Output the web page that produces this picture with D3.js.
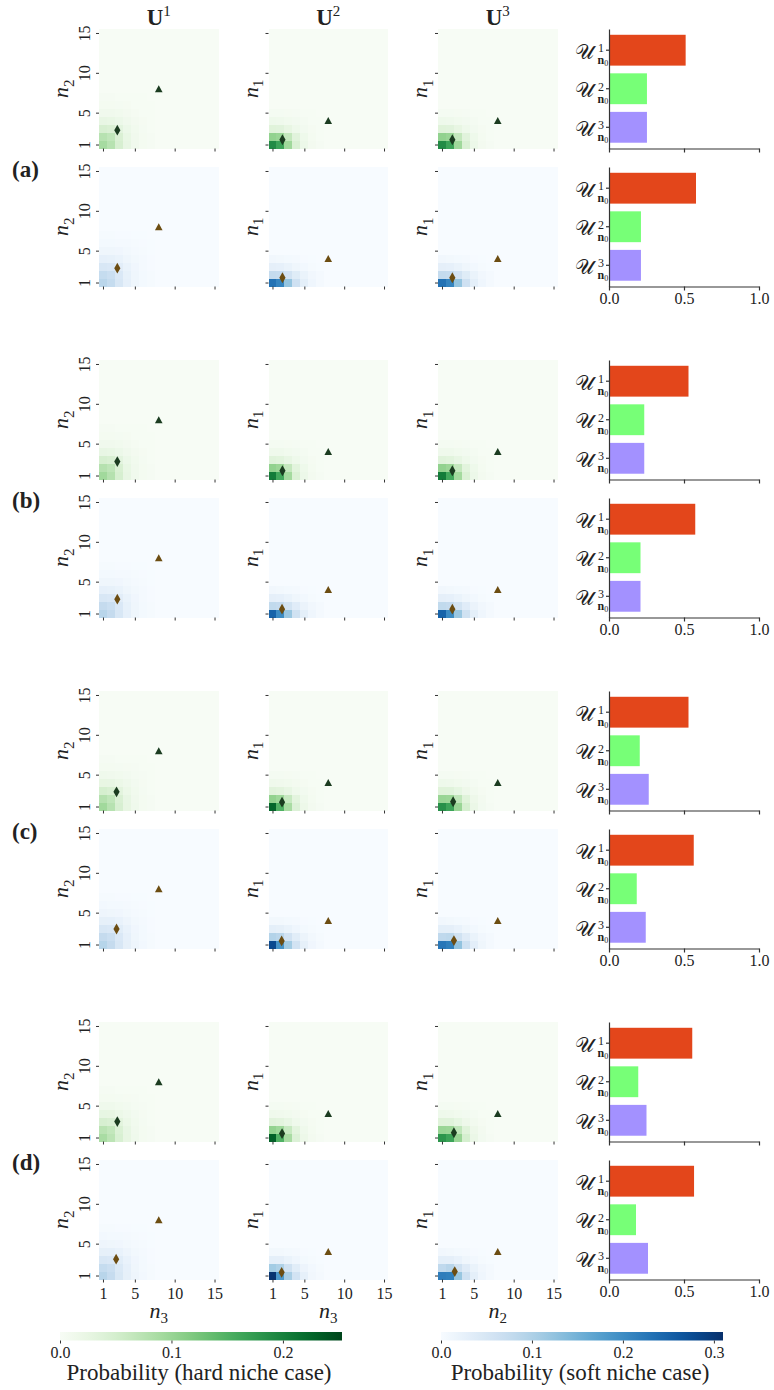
<!DOCTYPE html>
<html>
<head>
<meta charset="utf-8">
<script src="https://cdn.jsdelivr.net/npm/d3@7"></script>
<style>
  body { margin: 0; background: #fff; }
  svg text { font-family: "Liberation Serif", "DejaVu Serif", serif; fill: #222; }
</style>
</head>
<body>
<div id="chart"></div>
<script>
// ---- data ----
const groupNames = ["(a)", "(b)", "(c)", "(d)"];
const colSup = ["1", "2", "3"];
const yAxisSub = ["2", "1", "1"];
const xAxisSub = ["3", "3", "2"];
const gridTicks = [1, 5, 10, 15];
const shareTicks = [0, 0.5, 1];
const hardTicks = [0, 0.1, 0.2];
const softTicks = [0, 0.1, 0.2, 0.3];
const shareColors = ["#e3461b", "#77ff77", "#a391ff"];

// U^1, U^2, U^3 shares per group
const hardShares = [[0.511, 0.253, 0.253], [0.53, 0.235, 0.235], [0.53, 0.205, 0.265], [0.555, 0.195, 0.25]];
const softShares = [[0.58, 0.213, 0.213], [0.575, 0.21, 0.21], [0.565, 0.185, 0.245], [0.567, 0.18, 0.26]];

// lower-left corner of each 15x15 grid, rows from n=1 upward; other cells ~0
const hardU1 = [
  [[0.090,0.076,0.046,0.024,0.012,0.006,0.003],[0.076,0.068,0.043,0.023,0.012,0.006,0.003],[0.046,0.043,0.031,0.018,0.010,0.005,0.002],[0.024,0.023,0.018,0.012,0.007,0.004,0.002],[0.012,0.012,0.010,0.007,0.004,0.002,0.001],[0.006,0.006,0.005,0.004,0.002,0.001,0.001],[0.003,0.003,0.002,0.002,0.001,0.001,0]],
  [[0.094,0.078,0.047,0.024,0.012,0.006,0.003],[0.078,0.070,0.044,0.023,0.012,0.006,0.003],[0.047,0.044,0.031,0.018,0.010,0.005,0.002],[0.024,0.023,0.018,0.012,0.007,0.004,0.002],[0.012,0.012,0.010,0.007,0.004,0.002,0.001],[0.006,0.006,0.005,0.004,0.002,0.001,0.001],[0.003,0.003,0.002,0.002,0.001,0.001,0]],
  [[0.094,0.076,0.046,0.025,0.013,0.006,0.003],[0.078,0.068,0.043,0.024,0.012,0.006,0.003],[0.048,0.044,0.032,0.019,0.010,0.005,0.002],[0.025,0.024,0.019,0.013,0.008,0.004,0.002],[0.013,0.012,0.010,0.008,0.005,0.003,0.001],[0.006,0.006,0.005,0.004,0.003,0.002,0.001],[0.003,0.003,0.002,0.002,0.001,0.001,0]],
  [[0.088,0.072,0.045,0.025,0.013,0.006,0.003],[0.074,0.066,0.042,0.024,0.012,0.006,0.003],[0.046,0.043,0.032,0.019,0.010,0.005,0.002],[0.026,0.025,0.019,0.013,0.008,0.004,0.002],[0.013,0.013,0.010,0.008,0.005,0.003,0.001],[0.006,0.006,0.005,0.004,0.003,0.002,0.001],[0.003,0.003,0.002,0.002,0.001,0.001,0]]
];
const hardU2 = [
  [[0.190,0.165,0.095,0.043,0.018,0.007,0.003],[0.105,0.100,0.065,0.034,0.015,0.006,0.002],[0.036,0.034,0.025,0.015,0.008,0.004,0.001],[0.015,0.014,0.011,0.008,0.005,0.002,0.001],[0.005,0.005,0.004,0.003,0.002,0.001,0]],
  [[0.205,0.160,0.092,0.042,0.018,0.007,0.003],[0.105,0.098,0.064,0.033,0.015,0.006,0.002],[0.035,0.033,0.024,0.015,0.008,0.004,0.001],[0.014,0.013,0.010,0.008,0.005,0.002,0.001],[0.005,0.005,0.004,0.003,0.002,0.001,0]],
  [[0.225,0.150,0.088,0.040,0.017,0.007,0.003],[0.105,0.096,0.062,0.032,0.014,0.006,0.002],[0.034,0.032,0.024,0.014,0.008,0.004,0.001],[0.013,0.012,0.010,0.007,0.004,0.002,0.001],[0.005,0.005,0.004,0.003,0.002,0.001,0]],
  [[0.230,0.150,0.088,0.040,0.017,0.007,0.003],[0.105,0.096,0.062,0.032,0.014,0.006,0.002],[0.034,0.032,0.024,0.014,0.008,0.004,0.001],[0.013,0.012,0.010,0.007,0.004,0.002,0.001],[0.005,0.005,0.004,0.003,0.002,0.001,0]]
];
const hardU3 = [
  [[0.190,0.165,0.095,0.043,0.018,0.007,0.003],[0.105,0.100,0.065,0.034,0.015,0.006,0.002],[0.036,0.034,0.025,0.015,0.008,0.004,0.001],[0.015,0.014,0.011,0.008,0.005,0.002,0.001],[0.005,0.005,0.004,0.003,0.002,0.001,0]],
  [[0.205,0.160,0.092,0.042,0.018,0.007,0.003],[0.105,0.098,0.064,0.033,0.015,0.006,0.002],[0.035,0.033,0.024,0.015,0.008,0.004,0.001],[0.014,0.013,0.010,0.008,0.005,0.002,0.001],[0.005,0.005,0.004,0.003,0.002,0.001,0]],
  [[0.185,0.165,0.100,0.048,0.020,0.008,0.003],[0.100,0.098,0.068,0.036,0.016,0.007,0.002],[0.036,0.035,0.027,0.016,0.009,0.004,0.001],[0.015,0.014,0.011,0.008,0.005,0.002,0.001],[0.005,0.005,0.004,0.003,0.002,0.001,0]],
  [[0.180,0.165,0.100,0.048,0.020,0.008,0.003],[0.100,0.098,0.068,0.036,0.016,0.007,0.002],[0.036,0.035,0.027,0.016,0.009,0.004,0.001],[0.015,0.014,0.011,0.008,0.005,0.002,0.001],[0.005,0.005,0.004,0.003,0.002,0.001,0]]
];
const softU1 = [
  [[0.088,0.075,0.048,0.026,0.013,0.006,0.003],[0.075,0.068,0.045,0.025,0.013,0.006,0.003],[0.048,0.045,0.033,0.020,0.011,0.005,0.002],[0.026,0.025,0.020,0.013,0.008,0.004,0.002],[0.013,0.013,0.011,0.008,0.005,0.003,0.001],[0.006,0.006,0.005,0.004,0.003,0.002,0.001],[0.003,0.003,0.002,0.002,0.001,0.001,0]],
  [[0.090,0.076,0.048,0.026,0.013,0.006,0.003],[0.076,0.068,0.045,0.025,0.013,0.006,0.003],[0.048,0.045,0.033,0.020,0.011,0.005,0.002],[0.026,0.025,0.020,0.013,0.008,0.004,0.002],[0.013,0.013,0.011,0.008,0.005,0.003,0.001],[0.006,0.006,0.005,0.004,0.003,0.002,0.001],[0.003,0.003,0.002,0.002,0.001,0.001,0]],
  [[0.092,0.076,0.048,0.027,0.014,0.007,0.003],[0.076,0.068,0.045,0.026,0.013,0.006,0.003],[0.048,0.045,0.034,0.021,0.011,0.006,0.002],[0.027,0.026,0.021,0.014,0.008,0.004,0.002],[0.014,0.013,0.011,0.008,0.005,0.003,0.001],[0.007,0.006,0.006,0.004,0.003,0.002,0.001],[0.003,0.003,0.002,0.002,0.001,0.001,0]],
  [[0.090,0.074,0.047,0.027,0.014,0.007,0.003],[0.075,0.067,0.044,0.026,0.013,0.006,0.003],[0.048,0.045,0.034,0.021,0.011,0.006,0.002],[0.027,0.026,0.021,0.014,0.008,0.004,0.002],[0.014,0.013,0.011,0.008,0.005,0.003,0.001],[0.007,0.006,0.006,0.004,0.003,0.002,0.001],[0.003,0.003,0.002,0.002,0.001,0.001,0]]
];
const softU2 = [
  [[0.232,0.210,0.122,0.062,0.030,0.012,0.005],[0.077,0.074,0.057,0.037,0.020,0.009,0.004],[0.028,0.026,0.020,0.013,0.007,0.003,0.001],[0.009,0.008,0.006,0.004,0.002,0.001,0]],
  [[0.250,0.200,0.118,0.060,0.029,0.012,0.005],[0.080,0.076,0.056,0.036,0.019,0.009,0.004],[0.028,0.026,0.020,0.013,0.007,0.003,0.001],[0.009,0.008,0.006,0.004,0.002,0.001,0]],
  [[0.280,0.190,0.110,0.058,0.027,0.011,0.004],[0.095,0.088,0.058,0.035,0.017,0.008,0.003],[0.029,0.027,0.020,0.012,0.006,0.003,0.001],[0.008,0.008,0.006,0.004,0.002,0.001,0]],
  [[0.305,0.185,0.105,0.058,0.026,0.010,0.004],[0.110,0.100,0.060,0.035,0.016,0.007,0.003],[0.030,0.028,0.020,0.012,0.006,0.003,0.001],[0.008,0.008,0.006,0.004,0.002,0.001,0]]
];
const softU3 = [
  [[0.232,0.210,0.122,0.062,0.030,0.012,0.005],[0.077,0.074,0.057,0.037,0.020,0.009,0.004],[0.028,0.026,0.020,0.013,0.007,0.003,0.001],[0.009,0.008,0.006,0.004,0.002,0.001,0]],
  [[0.250,0.200,0.118,0.060,0.029,0.012,0.005],[0.080,0.076,0.056,0.036,0.019,0.009,0.004],[0.028,0.026,0.020,0.013,0.007,0.003,0.001],[0.009,0.008,0.006,0.004,0.002,0.001,0]],
  [[0.225,0.215,0.125,0.064,0.031,0.013,0.005],[0.082,0.085,0.060,0.038,0.020,0.009,0.004],[0.029,0.028,0.021,0.013,0.007,0.003,0.001],[0.009,0.008,0.006,0.004,0.002,0.001,0]],
  [[0.218,0.215,0.120,0.062,0.030,0.012,0.005],[0.082,0.090,0.060,0.038,0.020,0.009,0.004],[0.029,0.028,0.021,0.013,0.007,0.003,0.001],[0.009,0.008,0.006,0.004,0.002,0.001,0]]
];

// diamond = mean position, triangle = target, per group and column
const hardMeans = [
  [[2.8, 2.8], [2.25, 1.6], [2.3, 1.6]],
  [[2.8, 2.75], [2.25, 1.6], [2.3, 1.6]],
  [[2.7, 2.85], [2.2, 1.55], [2.4, 1.6]],
  [[2.8, 3.0], [2.2, 1.5], [2.5, 1.6]]
];
const softMeans = [
  [[2.8, 2.8], [2.25, 1.6], [2.3, 1.6]],
  [[2.8, 2.8], [2.2, 1.55], [2.3, 1.55]],
  [[2.7, 2.95], [2.15, 1.45], [2.5, 1.5]],
  [[2.65, 3.05], [2.15, 1.4], [2.6, 1.5]]
];
const targets = [[8, 8], [8, 4], [8, 4]];

// ---- layout ----
const W = 774, H = 1390;
const colX = [99, 268.5, 438];
const size = 119.5;
const barLeft = 609, barRight = 759;
const groupTop = g => 29 + g * 331;
const rowShift = [0, 138];

const greenColor = d3.scaleSequential(d3.interpolateGreens).domain([0, 0.253]);
const blueColor = d3.scaleSequential(d3.interpolateBlues).domain([0, 0.31]);

const svg = d3.select("#chart").append("svg")
  .attr("width", W).attr("height", H);

function subLabel(sel, sub, big, small) {
  sel.append("tspan").attr("font-style", "italic").attr("font-size", big).text("n");
  sel.append("tspan").attr("font-size", small).attr("dy", big * 0.25).text(sub);
}

function heatmap(x0, y0, grid, color, mean, target, markColor, col, showX) {
  const x = d3.scaleLinear().domain([0.5, 15.5]).range([x0, x0 + size]);
  const y = d3.scaleLinear().domain([0.5, 15.5]).range([y0 + size, y0]);
  const cells = [];
  for (let j = 1; j <= 15; j++)
    for (let i = 1; i <= 15; i++)
      cells.push({ i, j, v: (grid[j - 1] || [])[i - 1] || 0 });

  const g = svg.append("g");
  g.selectAll("rect").data(cells).enter().append("rect")
    .attr("x", d => x(d.i - 0.5))
    .attr("y", d => y(d.j + 0.5))
    .attr("width", d => x(d.i + 0.5) - x(d.i - 0.5) + 0.3)
    .attr("height", d => y(d.j - 0.5) - y(d.j + 0.5) + 0.3)
    .attr("fill", d => color(d.v))
    .attr("shape-rendering", "crispEdges");

  // y axis
  const ya = g.append("g").attr("transform", `translate(${x0},0)`)
    .call(d3.axisLeft(y).tickValues(gridTicks).tickSize(3)
      .tickFormat(col === 0 ? d3.format("d") : ""));
  ya.select(".domain").remove();
  ya.selectAll(".tick line").attr("stroke", "#333");
  ya.selectAll(".tick text")
    .attr("transform", "rotate(-90)")
    .attr("x", 0).attr("y", -9).attr("dy", 0)
    .attr("text-anchor", "middle")
    .attr("font-size", 16).attr("fill", "#222")
    .style("font-family", "Liberation Serif");

  // x axis
  const xa = g.append("g").attr("transform", `translate(0,${y0 + size})`)
    .call(d3.axisBottom(x).tickValues(gridTicks).tickSize(3)
      .tickFormat(showX ? d3.format("d") : ""));
  xa.select(".domain").remove();
  xa.selectAll(".tick line").attr("stroke", "#333");
  xa.selectAll(".tick text").attr("y", 7).attr("dy", "0.75em")
    .attr("font-size", 16).attr("fill", "#222")
    .style("font-family", "Liberation Serif");

  // y label
  const lx = col === 0 ? x0 - 31 : x0 - 11;
  const yl = g.append("text")
    .attr("transform", `translate(${lx},${y0 + size / 2}) rotate(-90)`)
    .attr("text-anchor", "middle");
  subLabel(yl, yAxisSub[col], 22, 15);

  if (showX) {
    const xl = g.append("text")
      .attr("x", x0 + size / 2).attr("y", y0 + size + 38)
      .attr("text-anchor", "middle");
    subLabel(xl, xAxisSub[col], 22, 15);
  }

  // markers
  const tri = "M0,-3.6L3.8,3.4L-3.8,3.4Z";
  const dia = "M0,-5.4L3.1,0L0,5.4L-3.1,0Z";
  g.append("path").attr("d", tri)
    .attr("transform", `translate(${x(target[0])},${y(target[1])})`)
    .attr("fill", markColor);
  g.append("path").attr("d", dia)
    .attr("transform", `translate(${x(mean[0])},${y(mean[1])})`)
    .attr("fill", markColor);
}

function shareBars(y0, values, showX) {
  const x = d3.scaleLinear().domain([0, 1]).range([barLeft, barRight]);
  const y = d3.scaleBand().domain([0, 1, 2]).range([y0, y0 + size])
    .paddingInner(0.2).paddingOuter(0.15);
  const g = svg.append("g");
  g.selectAll("rect").data(values).enter().append("rect")
    .attr("x", x(0)).attr("y", (d, i) => y(i))
    .attr("width", d => x(d) - x(0)).attr("height", y.bandwidth())
    .attr("fill", (d, i) => shareColors[i]);

  const ya = g.append("g").attr("transform", `translate(${barLeft},0)`)
    .call(d3.axisLeft(y).tickSize(3).tickSizeOuter(0).tickFormat(""));
  ya.selectAll("path, line").attr("stroke", "#333").attr("stroke-width", 1.2);

  const xa = g.append("g").attr("transform", `translate(0,${y0 + size})`)
    .call(d3.axisBottom(x).tickValues(shareTicks).tickSize(4).tickSizeOuter(0)
      .tickFormat(showX ? d3.format(".1f") : ""));
  xa.selectAll("path, line").attr("stroke", "#333").attr("stroke-width", 1.2);
  xa.selectAll(".tick text").attr("y", 5).attr("dy", "0.75em")
    .attr("font-size", 16).attr("fill", "#222")
    .style("font-family", "Liberation Serif");

  // labels like U^k_{n0}
  [0, 1, 2].forEach(k => {
    const cy = y(k) + y.bandwidth() / 2;
    g.append("text").attr("x", 594).attr("y", cy + 8.5)
      .attr("text-anchor", "end").attr("font-size", 21)
      .text("𝒰");
    g.append("text").attr("x", 598).attr("y", cy + 2)
      .attr("font-size", 12).text(colSup[k]);
    const sub = g.append("text").attr("x", 597.5).attr("y", cy + 14);
    sub.append("tspan").attr("font-size", 12).attr("font-weight", "bold").text("n");
    sub.append("tspan").attr("font-size", 8).attr("dy", 1.5).text("0");
  });
}

// column titles
colX.forEach((x0, c) => {
  const t = svg.append("text").attr("x", x0 + size / 2).attr("y", 25)
    .attr("text-anchor", "middle");
  t.append("tspan").attr("font-weight", "bold").attr("font-size", 23).text("U");
  t.append("tspan").attr("font-size", 15).attr("dy", -9).text(colSup[c]);
});

groupNames.forEach((name, g) => {
  const top = groupTop(g);
  svg.append("text").attr("x", 12).attr("y", top + 148)
    .attr("font-weight", "bold").attr("font-size", 23).text(name);

  const cases = [
    { grids: [hardU1, hardU2, hardU3], means: hardMeans, color: greenColor, mark: "#1b3c20", shares: hardShares },
    { grids: [softU1, softU2, softU3], means: softMeans, color: blueColor, mark: "#6c4d12", shares: softShares }
  ];
  cases.forEach((cs, r) => {
    const y0 = top + rowShift[r];
    const last = g === 3 && r === 1;
    colX.forEach((x0, c) => {
      heatmap(x0, y0, cs.grids[c][g], cs.color, cs.means[g][c], targets[c], cs.mark, c, last);
    });
    shareBars(y0, cs.shares[g], r === 1);
  });
});

// colorbars
function colorbar(x0, x1, interp, vmax, ticks, label, id) {
  const grad = svg.append("defs").append("linearGradient").attr("id", id);
  d3.range(0, 1.0001, 0.05).forEach(t => {
    grad.append("stop").attr("offset", t).attr("stop-color", interp(t));
  });
  const y0 = 1332, h = 8.5;
  svg.append("rect").attr("x", x0).attr("y", y0).attr("width", x1 - x0).attr("height", h)
    .attr("fill", `url(#${id})`);
  const x = d3.scaleLinear().domain([0, vmax]).range([x0, x1]);
  const ax = svg.append("g").attr("transform", `translate(0,${y0 + h})`)
    .call(d3.axisBottom(x).tickValues(ticks).tickSize(3).tickFormat(d3.format(".1f")));
  ax.select(".domain").remove();
  ax.selectAll(".tick line").attr("stroke", "#333");
  ax.selectAll(".tick text").attr("y", 5).attr("dy", "0.75em")
    .attr("font-size", 16).attr("fill", "#222")
    .style("font-family", "Liberation Serif");
  svg.append("text").attr("x", (x0 + x1) / 2 - 2).attr("y", 1380)
    .attr("text-anchor", "middle").attr("font-size", 23).text(label);
}
colorbar(60, 342, d3.interpolateGreens, 0.253, hardTicks, "Probability (hard niche case)", "gGreen");
colorbar(441, 723, d3.interpolateBlues, 0.31, softTicks, "Probability (soft niche case)", "gBlue");
</script>
</body>
</html>
